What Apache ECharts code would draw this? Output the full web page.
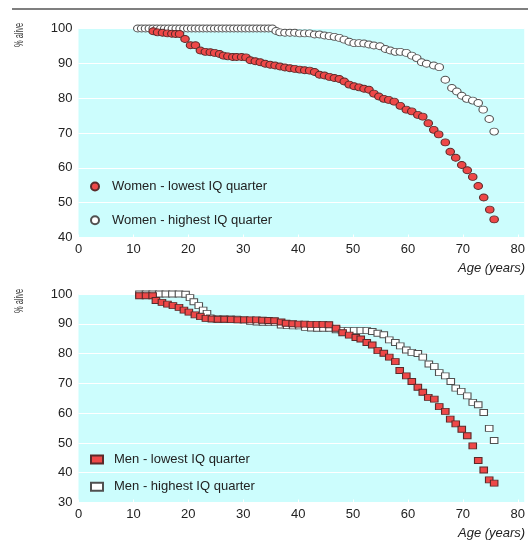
<!DOCTYPE html>
<html><head><meta charset="utf-8">
<script src="https://cdn.jsdelivr.net/npm/echarts@6/dist/echarts.min.js"></script>
<style>html,body{margin:0;padding:0;background:#fff}#c{width:528px;height:540px}</style>
</head><body><div id="c"></div>
<script>
// ---- data ----
const xTickLabels = ['0','10','20','30','40','50','60','70','80'];
const yTicksTop = [40,50,60,70,80,90,100];
const yTicksBottom = [30,40,50,60,70,80,90,100];
const seriesNames = ['Women - lowest IQ quarter','Women - highest IQ quarter','Men - lowest IQ quarter','Men - highest IQ quarter'];
const xAxisTitle = 'Age (years)';
const yAxisTitle = '% alive';

const womenLow = [[13.6,99.2],[14.4,98.9],[15.3,98.8],[16.2,98.6],[17.0,98.5],[17.7,98.4],[18.4,98.4],[19.4,97.0],[20.4,95.2],[21.3,95.2],[22.2,93.7],[23.1,93.3],[24.0,93.2],[24.8,93.0],[25.7,92.7],[26.4,92.2],[27.2,92.0],[28.1,91.8],[28.8,91.8],[29.7,91.8],[30.5,91.7],[31.3,90.9],[32.2,90.6],[33.1,90.3],[34.0,89.9],[34.9,89.6],[35.8,89.4],[36.7,89.1],[37.6,88.8],[38.5,88.6],[39.4,88.4],[40.3,88.2],[41.2,88.0],[42.1,87.9],[43.0,87.5],[43.9,86.7],[44.8,86.5],[45.7,86.1],[46.6,85.8],[47.5,85.5],[48.4,84.8],[49.3,83.9],[50.2,83.4],[51.1,83.1],[52.0,82.7],[52.9,82.4],[53.8,81.3],[54.7,80.5],[55.6,79.8],[56.5,79.5],[57.5,79.0],[58.6,77.8],[59.7,76.7],[60.7,76.2],[61.8,75.2],[62.7,74.7],[63.7,72.8],[64.7,70.9],[65.6,69.6],[66.8,67.3],[67.7,64.6],[68.7,62.9],[69.8,60.8],[70.8,59.3],[71.8,57.4],[72.8,54.8],[73.8,51.5],[74.9,48.0],[75.7,45.2]];

const womenHigh = [[10.8,100],[11.5,100],[12.2,100],[12.9,100],[13.6,100],[14.3,100],[15.0,100],[15.7,100],[16.4,100],[17.1,100],[17.8,100],[18.5,100],[19.2,100],[19.9,100],[20.6,100],[21.3,100],[22.0,100],[22.7,100],[23.4,100],[24.1,100],[24.8,100],[25.5,100],[26.2,100],[26.9,100],[27.6,100],[28.3,100],[29.0,100],[29.7,100],[30.4,100],[31.1,100],[31.8,100],[32.5,100],[33.2,100],[33.9,100],[34.6,100],[35.3,100],[36.0,99.3],[36.7,98.9],[37.6,98.8],[38.5,98.8],[39.4,98.8],[40.3,98.6],[41.2,98.6],[42.1,98.6],[43.0,98.3],[43.9,98.3],[44.8,98.0],[45.7,97.8],[46.6,97.6],[47.5,97.3],[48.4,96.8],[49.3,96.2],[50.2,95.8],[51.1,95.8],[52.0,95.7],[52.9,95.4],[53.8,95.1],[54.9,94.9],[55.9,94.1],[56.8,93.7],[57.7,93.3],[58.6,93.3],[59.7,93.0],[60.7,92.2],[61.6,91.5],[62.5,90.3],[63.4,89.9],[64.7,89.4],[65.7,88.9],[66.8,85.3],[68.0,82.9],[68.9,81.9],[69.8,80.7],[70.7,79.8],[71.8,79.3],[72.8,78.6],[73.7,76.7],[74.8,74.0],[75.7,70.4]];

const menLow = [[11.1,99.4],[12.3,99.4],[13.5,99.4],[14.1,97.8],[15.2,97.2],[16.2,96.6],[17.2,96.1],[18.3,95.5],[19.2,94.6],[20.1,93.9],[21.2,93.0],[22.2,92.4],[23.2,91.8],[24.3,91.6],[25.4,91.5],[26.6,91.5],[27.8,91.4],[29.0,91.3],[30.2,91.3],[31.3,91.3],[32.4,91.3],[33.5,91.2],[34.6,91.1],[35.7,91.0],[36.9,90.6],[37.8,90.2],[39.0,90.0],[40.1,89.9],[41.2,89.9],[42.3,89.8],[43.4,89.8],[44.5,89.8],[45.6,89.7],[46.9,88.5],[48.1,87.0],[49.3,86.2],[50.5,85.4],[51.4,84.9],[52.5,83.7],[53.5,82.9],[54.5,81.0],[55.6,80.1],[56.6,78.8],[57.7,77.3],[58.5,74.3],[59.7,72.5],[60.7,70.6],[61.8,68.7],[62.7,67.0],[63.7,65.3],[64.8,64.7],[65.7,62.2],[66.8,60.6],[67.7,58.0],[68.7,56.4],[69.8,54.6],[70.8,52.4],[71.8,49.0],[72.8,44.1],[73.8,40.9],[74.8,37.6],[75.7,36.5]];

const menHigh = [[11.1,100],[12.3,100],[13.5,100],[14.7,100],[15.9,100],[17.1,100],[18.3,100],[19.5,99.9],[20.3,98.8],[21.0,97.4],[21.9,96.1],[22.7,94.6],[23.4,93.5],[24.0,92.0],[25.2,91.6],[26.4,91.6],[27.7,91.6],[28.8,91.5],[30.1,91.3],[31.3,90.8],[32.5,90.6],[33.6,90.5],[34.7,90.5],[35.8,90.4],[36.9,89.6],[38.0,89.4],[39.1,89.3],[40.2,89.3],[41.3,88.8],[42.4,88.6],[43.5,88.5],[44.6,88.5],[45.7,88.5],[46.9,88.0],[48.0,87.8],[49.1,87.7],[50.2,87.7],[51.4,87.7],[52.5,87.7],[53.5,87.4],[54.5,86.8],[55.6,86.3],[56.6,84.6],[57.7,83.7],[58.6,82.6],[59.7,81.2],[60.7,80.4],[61.8,80.0],[62.7,78.8],[63.8,76.5],[64.8,75.6],[65.7,73.6],[66.8,72.5],[67.8,70.6],[68.7,68.4],[69.7,67.3],[70.8,65.8],[71.8,63.6],[72.8,62.8],[73.8,60.2],[74.8,54.9],[75.7,50.8]];

// ---- chart ----
const chart = echarts.init(document.getElementById('c'), null, {renderer:'canvas'});
const FONT = 'Liberation Sans, Arial, Helvetica, sans-serif';
const CYAN = '#ccfdfd';
const RED = '#ee4848';
const ELLIPSE = 'path://M50,0A50,50,0,1,1,50,100A50,50,0,1,1,50,0Z';
const xMin = Number(xTickLabels[0]);
const xLastTick = Number(xTickLabels[xTickLabels.length-1]);
const xStep = Number(xTickLabels[1]) - xMin;
// plot area extends past the last tick to the page edge
const gridLeft = 78.5, tickSpanPx = 443;
const xMaxExt = xLastTick * (528 - gridLeft) / tickSpanPx;

function xAxisCfg(gi){
  return {
    type:'value', gridIndex:gi, min:xMin, max:xMaxExt, interval:xStep,
    axisLine:{show:false},
    axisTick:{show:true, inside:true, length:3, lineStyle:{color:'#ffffff', width:1}},
    axisLabel:{fontSize:13, color:'#222', fontFamily:FONT, margin:5, showMaxLabel:false},
    splitLine:{show:false}
  };
}
function yAxisCfg(gi, ticks){
  return {
    type:'value', gridIndex:gi, min:ticks[0], max:ticks[ticks.length-1], interval:ticks[1]-ticks[0],
    axisLine:{show:false}, axisTick:{show:false},
    axisLabel:{fontSize:13, color:'#222', fontFamily:FONT, margin:6},
    splitLine:{show:true, lineStyle:{color:'#ffffff', width:1.2}}
  };
}
const option = {
  animation:false,
  backgroundColor:'#ffffff',
  grid:[
    {left:gridLeft, top:28.5, right:0, height:209, show:true, backgroundColor:CYAN, borderWidth:0},
    {left:gridLeft, top:294, right:0, height:208.5, show:true, backgroundColor:CYAN, borderWidth:0}
  ],
  xAxis:[xAxisCfg(0), xAxisCfg(1)],
  yAxis:[yAxisCfg(0, yTicksTop), yAxisCfg(1, yTicksBottom)],
  legend:[
    {data:[{name:seriesNames[0], icon:ELLIPSE}, {name:seriesNames[1], icon:ELLIPSE}], orient:'vertical', left:85, top:175, itemWidth:12, itemHeight:8, itemGap:20.7,
     textStyle:{fontSize:13, color:'#222', fontFamily:FONT, padding:[0,0,0,6]}},
    {data:[seriesNames[2], seriesNames[3]], orient:'vertical', left:85, top:448, itemWidth:12, itemHeight:8, itemGap:14.3,
     textStyle:{fontSize:13, color:'#222', fontFamily:FONT, padding:[0,0,0,6]}}
  ],
  series:[
    {name:seriesNames[1], type:'scatter', xAxisIndex:0, yAxisIndex:0, data:womenHigh, symbol:'circle', symbolSize:[8.5,7],
     itemStyle:{color:'#ffffff', borderColor:'#505050', borderWidth:1, opacity:1}},
    {name:seriesNames[0], type:'scatter', xAxisIndex:0, yAxisIndex:0, data:womenLow, symbol:'circle', symbolSize:[8.5,7],
     itemStyle:{color:RED, borderColor:'#5a2a2a', borderWidth:1, opacity:1}},
    {name:seriesNames[3], type:'scatter', xAxisIndex:1, yAxisIndex:1, data:menHigh, symbol:'rect', symbolSize:[7.5,6],
     itemStyle:{color:'#ffffff', borderColor:'#505050', borderWidth:1, opacity:1}},
    {name:seriesNames[2], type:'scatter', xAxisIndex:1, yAxisIndex:1, data:menLow, symbol:'rect', symbolSize:[7.5,6],
     itemStyle:{color:RED, borderColor:'#5a2a2a', borderWidth:1, opacity:1}}
  ],
  graphic:[
    {type:'line', shape:{x1:12, y1:9, x2:528, y2:9}, style:{stroke:'#555', lineWidth:1.5}},
    {type:'text', x:20, y:35, rotation:Math.PI/2, scaleX:0.6, style:{text:yAxisTitle, fontSize:12.5, fill:'#3a3a3a', fontFamily:FONT, align:'center', verticalAlign:'middle'}},
    {type:'text', x:20, y:301, rotation:Math.PI/2, scaleX:0.6, style:{text:yAxisTitle, fontSize:12.5, fill:'#3a3a3a', fontFamily:FONT, align:'center', verticalAlign:'middle'}},
    {type:'text', x:458, y:268, style:{text:xAxisTitle, fontSize:13, fontStyle:'italic', fill:'#222', fontFamily:FONT, align:'left', verticalAlign:'middle'}},
    {type:'text', x:458, y:533, style:{text:xAxisTitle, fontSize:13, fontStyle:'italic', fill:'#222', fontFamily:FONT, align:'left', verticalAlign:'middle'}}
  ]
};
chart.setOption(option);
</script>
</body></html>
